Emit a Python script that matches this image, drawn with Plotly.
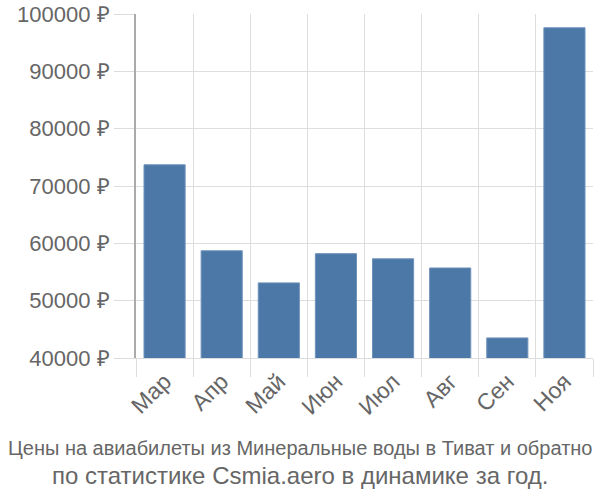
import plotly.graph_objects as go

months = ["Мар", "Апр", "Май", "Июн", "Июл", "Авг", "Сен", "Ноя"]
prices = [73700, 58700, 53100, 58200, 57300, 55700, 43500, 97600]
y_ticks = [40000, 50000, 60000, 70000, 80000, 90000, 100000]
y_labels = [f"{v} ₽" for v in y_ticks]
title_line1 = "Цены на авиабилеты из Минеральные воды в Тиват и обратно"
title_line2 = "по статистике Csmia.aero в динамике за год."

fig = go.Figure(go.Bar(
    x=months, y=prices,
    marker=dict(color="#4c78a8", line=dict(color="#6f92bb", width=1)),
    width=0.72,
))

fig.update_layout(
    width=600, height=500,
    margin=dict(l=136, r=7, t=14, b=142, autoexpand=False),
    paper_bgcolor="white", plot_bgcolor="white",
    showlegend=False,
    font=dict(family="Liberation Sans, Arial, sans-serif", color="#666666"),
)
fig.update_xaxes(
    type="category", tickson="boundaries",
    showgrid=True, gridcolor="#dddddd", gridwidth=1,
    ticks="outside", ticklen=18, tickcolor="#dddddd",
    showline=True, linecolor="#dddddd",
    tickangle=-45, tickfont=dict(size=23, color="#666666"),
    automargin=False,
)
fig.update_yaxes(
    range=[40000, 100000],
    tickvals=y_ticks, ticktext=y_labels,
    showgrid=True, gridcolor="#dddddd", gridwidth=1,
    ticks="outside", ticklen=20, tickcolor="#dddddd",
    showline=True, linecolor="#aaaaaa", linewidth=2,
    tickfont=dict(size=22, color="#666666"),
    zeroline=False, automargin=False,
)
fig.add_annotation(
    text=title_line1,
    xref="paper", yref="paper", x=(300-136)/457, xanchor="center",
    y=(358-448)/344, yanchor="middle", showarrow=False,
    font=dict(size=20, color="#666666"),
)
fig.add_annotation(
    text=title_line2,
    xref="paper", yref="paper", x=(300-136)/457, xanchor="center",
    y=(358-475)/344, yanchor="middle", showarrow=False,
    font=dict(size=24, color="#666666"),
)

fig.write_html("out.html")
